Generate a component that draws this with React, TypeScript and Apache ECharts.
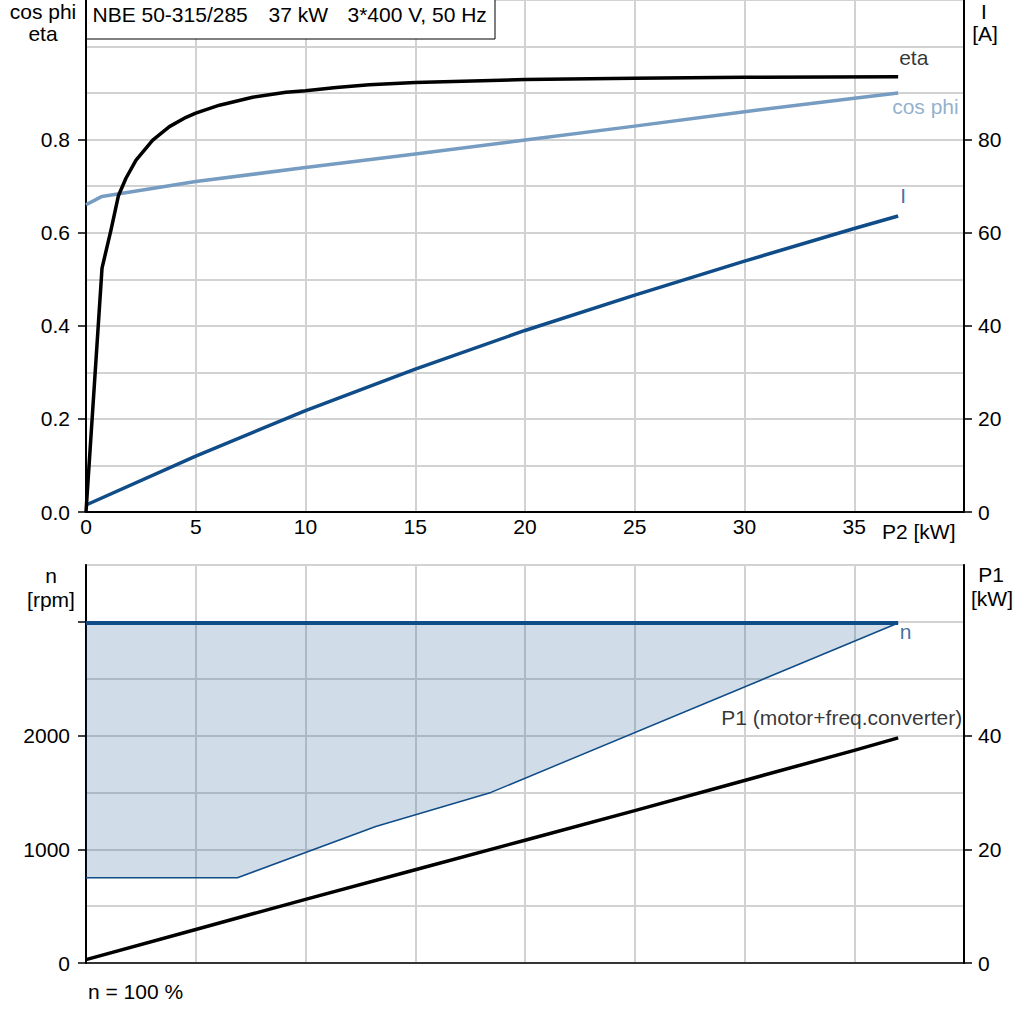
import React, { useEffect, useRef } from "react";
import * as echarts from "echarts";

const FONT = "'Liberation Sans', Arial, Helvetica, sans-serif";
const FS = 21;

// ---- data ----
const etaP2 = [0, 0.73, 1.14, 1.48, 1.82, 2.28, 3.04, 3.8, 4.56, 5.0, 6.08, 7.59, 9.11, 10, 11.4, 12.9, 15, 20, 25, 30, 37];
const etaValues = [0, 0.524, 0.606, 0.68, 0.717, 0.756, 0.799, 0.828, 0.848, 0.857, 0.874, 0.891, 0.902, 0.905, 0.912, 0.918, 0.923, 0.929, 0.932, 0.934, 0.935];

const cosPhiP2 = [0, 0.73, 5, 10, 15, 20, 25, 30, 35, 37];
const cosPhiValues = [0.66, 0.678, 0.71, 0.74, 0.769, 0.799, 0.829, 0.86, 0.889, 0.9];

const currentP2 = [0, 5, 10, 15, 20, 25, 30, 35, 37];
const currentValues = [1.5, 12.0, 21.8, 30.7, 39.0, 46.6, 53.9, 60.9, 63.6];

const speedP2 = [0, 6.9, 13.2, 18.45, 37];
const speedMinValues = [750, 750, 1200, 1500, 2990];
const speedMaxValues = [2990, 2990, 2990, 2990, 2990];

const p1P2 = [0, 5, 10, 15, 20, 25, 30, 35, 37];
const p1Values = [0.6, 5.9, 11.2, 16.4, 21.6, 26.8, 32.1, 37.4, 39.6];

const p2TickLabels = [0, 5, 10, 15, 20, 25, 30, 35];
const leftTopTicks = [0, 0.2, 0.4, 0.6, 0.8];
const rightTopTicks = [0, 20, 40, 60, 80];
const leftBottomTicks = [0, 1000, 2000, 3000];
const leftBottomLabels = [0, 1000, 2000];
const rightBottomTicks = [0, 20, 40];

const titleParts = ["NBE 50-315/285", "37 kW", "3*400 V, 50 Hz"];

// ---- colours ----
const BLACK = "#000000";
const COSPHI = "#769cc1";
const DARKBLUE = "#0f4c88";
const GRIDC = "#d2d2d2";
const BAND = "rgba(22,80,140,0.2)";

const zip = (xs: number[], ys: number[]) => xs.map((x, i) => [x, ys[i]]);

function endLabel(
  text: string,
  xs: number[],
  ys: number[],
  xAxisIndex: number,
  yAxisIndex: number,
  color: string,
  offset: number[],
  align: string
) {
  return {
    type: "scatter",
    xAxisIndex,
    yAxisIndex,
    silent: true,
    symbolSize: 1,
    itemStyle: { color: "rgba(0,0,0,0)" },
    data: [[xs[xs.length - 1], ys[ys.length - 1]]],
    label: {
      show: true,
      position: "inside",
      formatter: text,
      color,
      fontSize: FS,
      fontFamily: FONT,
      align,
      verticalAlign: "middle",
      offset,
    },
    z: 6,
  };
}

function txt(text: string, x: number, y: number, align = "center", color = BLACK) {
  return {
    type: "text",
    x,
    y,
    z: 110,
    style: {
      text,
      fill: color,
      fontSize: FS,
      fontFamily: FONT,
      align,
      verticalAlign: "middle",
    },
  };
}

const labelStyle = { color: BLACK, fontSize: FS, fontFamily: FONT };

export default function App() {
  const ref = useRef<HTMLDivElement>(null);

  useEffect(() => {
    if (!ref.current) return;
    const chart = echarts.init(ref.current, undefined, { renderer: "svg" });

    const baseX = (gridIndex: number, showLabels: boolean) => ({
      type: "value",
      gridIndex,
      min: 0,
      max: 40,
      interval: 5,
      axisLine: { show: true, onZero: false, lineStyle: { color: BLACK, width: gridIndex === 0 ? 2 : 1.5 } },
      axisTick: { show: false },
      axisLabel: {
        show: showLabels,
        ...labelStyle,
        margin: 4,
        customValues: p2TickLabels,
        formatter: (v: number) => (v >= 40 ? "" : String(v)),
      },
      splitLine: { show: true, lineStyle: { color: GRIDC, width: 2 } },
    });

    const visY = (
      gridIndex: number,
      position: string,
      max: number,
      interval: number,
      ticks: number[],
      labels: number[],
      fmt: (v: number) => string,
      margin: number
    ) => ({
      type: "value",
      gridIndex,
      position,
      min: 0,
      max,
      interval,
      axisLine: { show: true, onZero: false, lineStyle: { color: BLACK, width: 2 } },
      axisTick: { show: true, length: 8, customValues: ticks, lineStyle: { color: BLACK, width: 1.5 } },
      axisLabel: {
        show: true,
        ...labelStyle,
        margin,
        customValues: labels,
        formatter: (v: number) => (labels.some((l) => Math.abs(l - v) < 1e-9) ? fmt(v) : ""),
      },
      splitLine: { show: false },
    });

    const gridY = (gridIndex: number, max: number, interval: number) => ({
      type: "value",
      gridIndex,
      position: "left",
      min: 0,
      max,
      interval,
      axisLine: { show: false },
      axisTick: { show: false },
      axisLabel: { show: false },
      splitLine: { show: true, lineStyle: { color: GRIDC, width: 2 } },
    });

    const bandData = speedP2.map((x, i) => [x, speedMinValues[i], speedMaxValues[i]]);

    const option = {
      animation: false,
      backgroundColor: "#ffffff",
      textStyle: { fontFamily: FONT },
      grid: [
        { left: 86, top: 0, width: 878, height: 512, show: true, borderColor: BLACK, borderWidth: 2, backgroundColor: "transparent" },
        { left: 86, top: 565, width: 878, height: 398, show: true, borderColor: "#7a7a7a", borderWidth: 2, backgroundColor: "transparent" },
      ],
      xAxis: [baseX(0, true), baseX(1, false)],
      yAxis: [
        visY(0, "left", 1.1, 0.2, leftTopTicks, leftTopTicks, (v) => v.toFixed(1), 16),
        visY(0, "right", 110, 20, rightTopTicks, rightTopTicks, (v) => String(v), 14),
        visY(1, "left", 3500, 1000, leftBottomTicks, leftBottomLabels, (v) => String(v), 16),
        visY(1, "right", 70, 20, rightBottomTicks, rightBottomTicks, (v) => String(v), 14),
        gridY(0, 1.1, 0.1),
        gridY(1, 3500, 500),
      ],
      series: [
        {
          name: "eta",
          type: "line",
          xAxisIndex: 0,
          yAxisIndex: 0,
          data: zip(etaP2, etaValues),
          symbol: "none",
          lineStyle: { color: BLACK, width: 3.5, join: "round" },
          z: 4,
        },
        {
          name: "cos phi",
          type: "line",
          xAxisIndex: 0,
          yAxisIndex: 0,
          data: zip(cosPhiP2, cosPhiValues),
          symbol: "none",
          lineStyle: { color: COSPHI, width: 3.5, join: "round" },
          z: 3,
        },
        {
          name: "I",
          type: "line",
          xAxisIndex: 0,
          yAxisIndex: 1,
          data: zip(currentP2, currentValues),
          symbol: "none",
          lineStyle: { color: DARKBLUE, width: 3.5, join: "round" },
          z: 3,
        },
        {
          name: "n range",
          type: "custom",
          xAxisIndex: 1,
          yAxisIndex: 2,
          silent: true,
          encode: { x: 0, y: [1, 2] },
          data: bandData,
          renderItem: (params: any, api: any) => {
            if (params.dataIndex !== 0) return null;
            const upper = speedP2.map((x, i) => api.coord([x, speedMaxValues[i]]));
            const lower = speedP2.map((x, i) => api.coord([x, speedMinValues[i]])).reverse();
            return {
              type: "polygon",
              shape: { points: upper.concat(lower) },
              style: { fill: BAND, stroke: "none" },
            };
          },
          z: 2,
        },
        {
          name: "n min",
          type: "line",
          xAxisIndex: 1,
          yAxisIndex: 2,
          data: zip(speedP2, speedMinValues),
          symbol: "none",
          lineStyle: { color: DARKBLUE, width: 1.5 },
          z: 3,
        },
        {
          name: "n",
          type: "line",
          xAxisIndex: 1,
          yAxisIndex: 2,
          data: zip(speedP2, speedMaxValues),
          symbol: "none",
          lineStyle: { color: DARKBLUE, width: 4 },
          z: 4,
        },
        {
          name: "P1",
          type: "line",
          xAxisIndex: 1,
          yAxisIndex: 3,
          data: zip(p1P2, p1Values),
          symbol: "none",
          lineStyle: { color: BLACK, width: 3.5, join: "round" },
          z: 4,
        },
        endLabel("eta", etaP2, etaValues, 0, 0, BLACK, [1, -19], "left"),
        endLabel("cos phi", cosPhiP2, cosPhiValues, 0, 0, COSPHI, [-6, 13], "left"),
        endLabel("I", currentP2, currentValues, 0, 1, DARKBLUE, [2, -20], "left"),
        endLabel("n", speedP2, speedMaxValues, 1, 2, DARKBLUE, [1.5, 9], "left"),
        endLabel("P1 (motor+freq.converter)", p1P2, p1Values, 1, 3, BLACK, [64, -20.5], "right"),
      ],
      graphic: [
        {
          type: "rect",
          z: 100,
          shape: { x: 86.5, y: -1, width: 408.5, height: 40 },
          style: { fill: "#ffffff", stroke: BLACK, lineWidth: 1 },
        },
        txt(titleParts[0], 92.5, 14.5, "left"),
        txt(titleParts[1], 268.5, 14.5, "left"),
        txt(titleParts[2], 347.5, 14.5, "left"),
        txt("cos phi", 43, 11.5),
        txt("eta", 43, 33),
        txt("I", 984, 11.5),
        txt("[A]", 985, 33),
        txt("P2 [kW]", 882, 531, "left"),
        txt("n", 51, 575),
        txt("[rpm]", 51, 599),
        txt("P1", 991, 574.5),
        txt("[kW]", 992, 598),
        txt("n = 100 %", 88, 991, "left"),
      ],
    };

    chart.setOption(option as any);
    return () => chart.dispose();
  }, []);

  return (
    <div
      ref={ref}
      style={{ position: "fixed", left: 0, top: 0, width: 1024, height: 1024, background: "#fff" }}
    />
  );
}
